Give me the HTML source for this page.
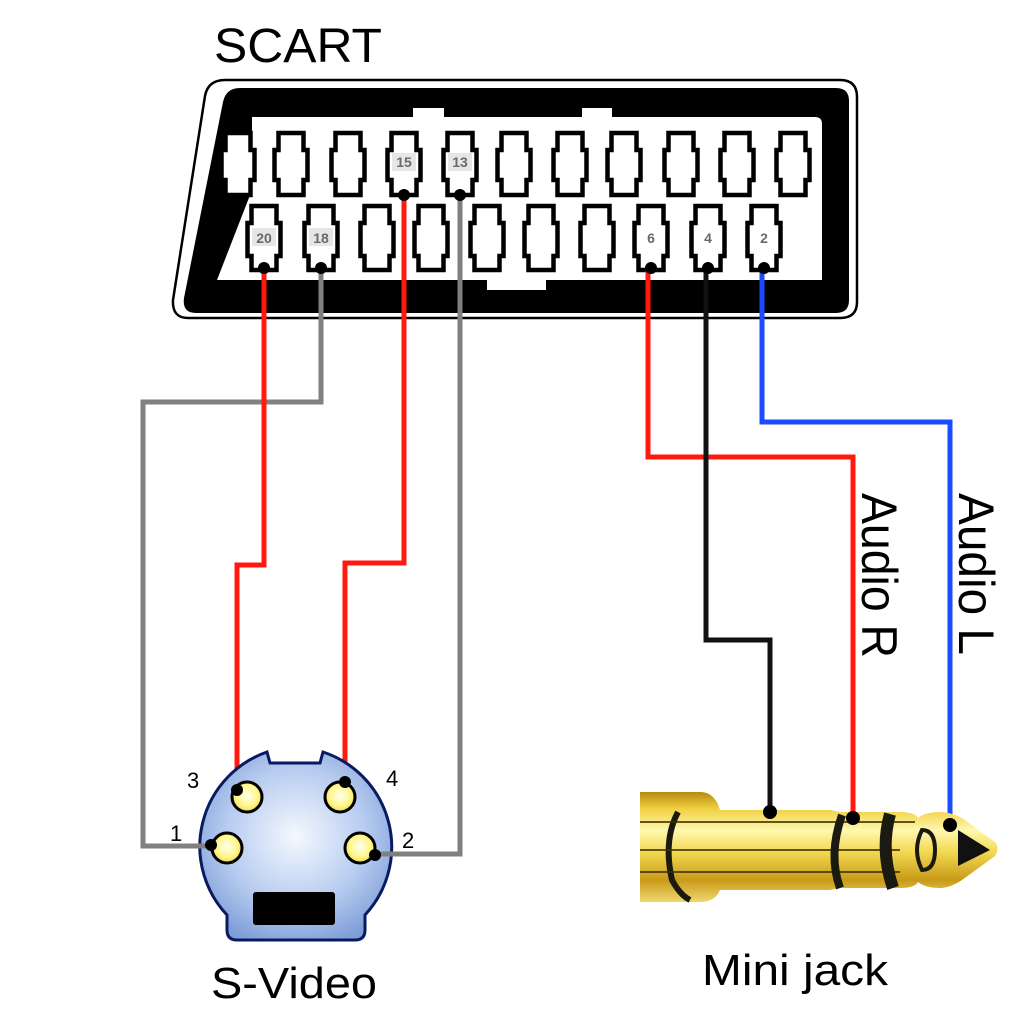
<!DOCTYPE html>
<html><head><meta charset="utf-8"><style>
html,body{margin:0;padding:0;background:#fff;}
svg{display:block;}
text{font-family:"Liberation Sans",Arial,sans-serif;}
</style></head><body>
<svg width="1022" height="1027" viewBox="0 0 1022 1027" xmlns="http://www.w3.org/2000/svg">
<defs>
<radialGradient id="sv" cx="0.5" cy="0.45" r="0.6">
<stop offset="0" stop-color="#f4f8ff"/><stop offset="0.6" stop-color="#b8ccf0"/><stop offset="1" stop-color="#7f9fd8"/>
</radialGradient>
<radialGradient id="pinY" cx="0.5" cy="0.45" r="0.6">
<stop offset="0" stop-color="#fffff0"/><stop offset="0.6" stop-color="#fff68a"/><stop offset="1" stop-color="#e8d040"/>
</radialGradient>
<linearGradient id="gold" x1="0" y1="0" x2="0" y2="1">
<stop offset="0" stop-color="#b88a10"/><stop offset="0.15" stop-color="#f0d040"/><stop offset="0.35" stop-color="#fff8b0"/><stop offset="0.55" stop-color="#f2d850"/><stop offset="0.8" stop-color="#c99a18"/><stop offset="1" stop-color="#f0d870"/>
</linearGradient>
<g id="pt">
<path d="M-12.5,0 H12.5 V17 H16.5 V47 H12.5 V62 H-12.5 V47 H-16.5 V17 H-12.5 Z" fill="#fff" stroke="#000" stroke-width="4.5"/>
</g>
<g id="pb">
<path d="M-12.5,0 H12.5 V17 H16.5 V50 H12.5 V64 H-12.5 V50 H-16.5 V17 H-12.5 Z" fill="#fff" stroke="#000" stroke-width="4.5"/>
</g>
</defs>

<text x="214" y="62" font-size="48" textLength="168" lengthAdjust="spacingAndGlyphs">SCART</text>

<path d="M225,80 H840 Q857,80 857,97 V302 Q857,318 840,318 H188 Q172,318 173,300 L205,96 Q208,80 225,80 Z" fill="#fff" stroke="#000" stroke-width="2.5"/>
<path d="M240,88 H836 Q849,88 849,101 V300 Q849,313 836,313 H196 Q182,313 184,298 L223,102 Q226,88 240,88 Z" fill="#000"/>
<path d="M252,117 H413 V108 H444 V117 H582 V108 H612 V117 H815 Q822,117 822,124 V280 H546 V290 H487 V280 H217 L252,190 Z" fill="#fff"/>

<g>
<use href="#pt" x="238" y="133"/>
<use href="#pt" x="291" y="133"/>
<use href="#pt" x="348" y="133"/>
<use href="#pt" x="404" y="133"/>
<use href="#pt" x="460" y="133"/>
<use href="#pt" x="514" y="133"/>
<use href="#pt" x="570" y="133"/>
<use href="#pt" x="624" y="133"/>
<use href="#pt" x="681" y="133"/>
<use href="#pt" x="737" y="133"/>
<use href="#pt" x="793" y="133"/>
</g>
<g>
<use href="#pb" x="264" y="206"/>
<use href="#pb" x="321" y="206"/>
<use href="#pb" x="377" y="206"/>
<use href="#pb" x="431" y="206"/>
<use href="#pb" x="487" y="206"/>
<use href="#pb" x="541" y="206"/>
<use href="#pb" x="597" y="206"/>
<use href="#pb" x="651" y="206"/>
<use href="#pb" x="708" y="206"/>
<use href="#pb" x="764" y="206"/>
</g>
<g font-size="14" font-weight="bold" fill="#6a6a6a" text-anchor="middle">
<rect x="392" y="153" width="24" height="18" fill="#e6e6e6"/><text x="404" y="167">15</text>
<rect x="448" y="153" width="24" height="18" fill="#e6e6e6"/><text x="460" y="167">13</text>
<rect x="252" y="228" width="24" height="18" fill="#e6e6e6"/><text x="264" y="243">20</text>
<rect x="309" y="228" width="24" height="18" fill="#e6e6e6"/><text x="321" y="243">18</text>
<text x="651" y="243">6</text>
<text x="708" y="243">4</text>
<text x="764" y="243">2</text>
</g>

<g fill="none" stroke-width="5" stroke-linejoin="miter">
<polyline points="321,268 321,402 143,402 143,846 215,846" stroke="#808080"/>
<polyline points="460,195 460,854 372,854" stroke="#808080"/>
<polyline points="264,268 264,565 237,565 237,790" stroke="#ff1a10"/>
<polyline points="404,195 404,563 345,563 345,782" stroke="#ff1a10"/>
<polyline points="648,268 648,457 853,457 853,815" stroke="#ff1a10"/>
<polyline points="706,268 706,640 770,640 770,812" stroke="#111"/>
<polyline points="762,268 762,422 950,422 950,825" stroke="#1a4cff"/>
</g>
<g fill="#000">
<circle cx="264" cy="268" r="6"/><circle cx="321" cy="268" r="6"/><circle cx="404" cy="195" r="6"/><circle cx="460" cy="195" r="6"/>
<circle cx="651" cy="268" r="6"/><circle cx="708" cy="268" r="6"/><circle cx="764" cy="268" r="6"/>
</g>

<path d="M267,752 L270,763 H320 L323,752 A100,100 0 0 1 365,915 V930 Q365,940 355,940 H237 Q227,940 227,930 V915 A100,100 0 0 1 267,752 Z" fill="url(#sv)" stroke="#0a1a60" stroke-width="3"/>
<rect x="253" y="892" width="82" height="33" rx="3" fill="#000"/>
<g fill="url(#pinY)" stroke="#000" stroke-width="3">
<circle cx="247" cy="797" r="15"/><circle cx="340" cy="797" r="15"/>
<circle cx="227" cy="848" r="15"/><circle cx="360" cy="848" r="15"/>
</g>
<g stroke="#808080" stroke-width="5"><line x1="143" y1="846" x2="215" y2="846"/><line x1="372" y1="854" x2="460" y2="854"/></g>
<g fill="#000"><circle cx="237" cy="790" r="6"/><circle cx="345" cy="782" r="6"/><circle cx="211" cy="845" r="6"/><circle cx="375" cy="855" r="6"/></g>
<g font-size="22" fill="#000">
<text x="187" y="788">3</text><text x="386" y="786">4</text><text x="170" y="841">1</text><text x="402" y="848">2</text>
</g>
<text x="211" y="998" font-size="44" textLength="166" lengthAdjust="spacingAndGlyphs">S-Video</text>

<path d="M640,792 H700 Q715,792 720,810 H830 L840,812 H900 Q915,812 918,818 Q925,812 940,812 Q950,812 962,818 L995,842 Q1000,848 995,856 L962,880 Q950,888 940,888 Q925,888 918,882 Q915,888 900,888 H840 L830,890 H720 Q715,902 700,902 H640 Z" fill="url(#gold)"/>
<path d="M678,812 Q663,840 672,880 Q680,895 690,900" fill="none" stroke="#1a1a10" stroke-width="6"/>
<path d="M640,822 H915 M640,850 H900 M640,872 H900" stroke="#3a3000" stroke-width="2" fill="none" opacity="0.8"/>
<path d="M842,815 Q828,855 840,888" fill="none" stroke="#1a1a10" stroke-width="8"/>
<path d="M890,814 Q880,850 893,888" fill="none" stroke="#1a1a10" stroke-width="12"/>
<path d="M922,830 Q912,850 922,870 Q935,870 935,850 Q935,830 922,830 Z" fill="none" stroke="#1a1a10" stroke-width="4"/>
<path d="M958,830 L990,850 L958,866 Z" fill="#111"/>
<g fill="#000"><circle cx="770" cy="812" r="7"/><circle cx="853" cy="818" r="7"/><circle cx="950" cy="825" r="7"/></g>
<text x="702" y="985" font-size="44" textLength="186" lengthAdjust="spacingAndGlyphs">Mini jack</text>

<text transform="translate(862,493) rotate(90)" font-size="50" textLength="165" lengthAdjust="spacingAndGlyphs">Audio R</text>
<text transform="translate(959,493) rotate(90)" font-size="50" textLength="162" lengthAdjust="spacingAndGlyphs">Audio L</text>
</svg>
</body></html>
